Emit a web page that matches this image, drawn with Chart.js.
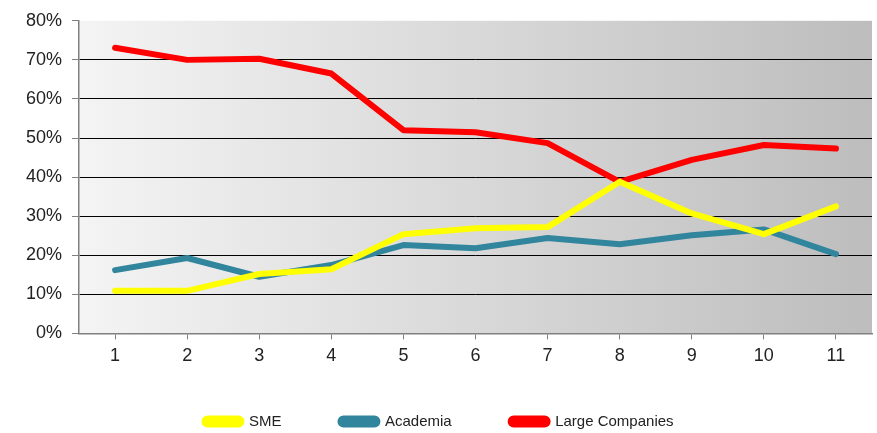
<!DOCTYPE html>
<html>
<head>
<meta charset="utf-8">
<script src="https://cdn.jsdelivr.net/npm/chart.js@4.4.0/dist/chart.umd.min.js"></script>
<style>
  html, body { margin: 0; padding: 0; background: #fff; }
  #wrap { width: 877px; height: 433px; }
</style>
</head>
<body>
<div id="wrap"><canvas id="myChart" width="877" height="433"></canvas></div>
<script>
var categories = ['1', '2', '3', '4', '5', '6', '7', '8', '9', '10', '11'];
var sme = [10.9, 10.9, 15.2, 16.4, 25.4, 26.9, 27.2, 38.8, 30.7, 25.4, 32.5];
var academia = [16.2, 19.3, 14.5, 17.5, 22.6, 21.8, 24.4, 22.8, 25.1, 26.6, 20.3];
var largeCompanies = [73.1, 70.0, 70.3, 66.5, 52.0, 51.5, 48.7, 38.8, 44.4, 48.2, 47.3];

// grey gradient behind the plot area
var plotBackground = {
    id: 'plotBackground',
    beforeDraw: function (chart) {
        var a = chart.chartArea;
        var c = chart.ctx;
        var g = c.createLinearGradient(a.left, 0, a.right, 0);
        g.addColorStop(0, '#f4f4f4');
        g.addColorStop(1, '#bdbdbd');
        c.save();
        c.fillStyle = g;
        c.fillRect(a.left, a.top, a.right - a.left, a.bottom - a.top);
        c.restore();
    }
};

// legend padding is big (wide item spacing), so reserve less room and move it up
var legendSpacing = {
    id: 'legendSpacing',
    afterInit: function (chart) {
        var lg = chart.legend;
        var fit = lg.fit;
        lg.fit = function () {
            fit.call(lg);
            lg.height = 60;
        };
    },
    afterLayout: function (chart) {
        var lg = chart.legend;
        lg.top -= 18;
        lg.left -= 5; lg.right -= 5;
    }
};

Chart.defaults.font.family = '"Liberation Sans", Arial, sans-serif';
Chart.defaults.color = '#222';

var ctx = document.getElementById('myChart');

new Chart(ctx, {
    type: 'line',
    data: {
        labels: categories,
        datasets: [
            { label: 'SME', data: sme, borderColor: '#ffff00', backgroundColor: '#ffff00' },
            { label: 'Academia', data: academia, borderColor: '#31859c', backgroundColor: '#31859c' },
            { label: 'Large Companies', data: largeCompanies, borderColor: '#ff0000', backgroundColor: '#ff0000' }
        ]
    },
    options: {
        responsive: false,
        animation: false,
        layout: { padding: { left: 16, right: 5, top: 6, bottom: 0 } },
        elements: {
            line: { borderWidth: 6, tension: 0, borderCapStyle: 'round', borderJoinStyle: 'round' },
            point: { radius: 0, hoverRadius: 0 }
        },
        scales: {
            x: {
                offset: true,
                grid: { display: true, drawOnChartArea: false, tickLength: 6, color: '#808080' },
                border: { color: '#808080', width: 1.5 },
                ticks: { font: { size: 18 }, padding: 6 }
            },
            y: {
                min: 0,
                max: 80,
                grid: {
                    tickLength: 7,
                    color: function (c) { return c.tick && c.tick.value === 80 ? 'rgba(0,0,0,0)' : '#000'; },
                    tickColor: '#808080'
                },
                border: { color: '#808080', width: 1.5 },
                ticks: {
                    stepSize: 10,
                    font: { size: 18 },
                    padding: 10,
                    callback: function (v) { return v + '%'; }
                }
            }
        },
        plugins: {
            legend: {
                position: 'bottom',
                labels: {
                    boxWidth: 37,
                    boxHeight: 6,
                    useBorderRadius: true,
                    borderRadius: 3,
                    padding: 59,
                    font: { size: 15 },
                    color: '#222'
                }
            },
            tooltip: { enabled: false }
        }
    },
    plugins: [plotBackground, legendSpacing]
});
</script>
</body>
</html>
